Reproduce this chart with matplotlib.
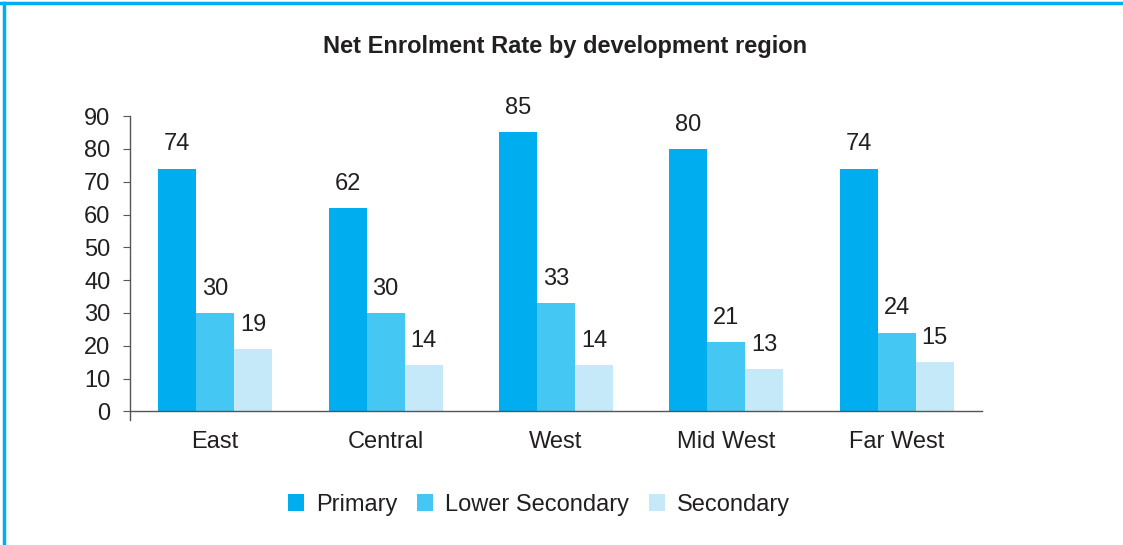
import numpy as np
import matplotlib.pyplot as plt
from matplotlib.lines import Line2D

plt.rcParams['font.family'] = ['Liberation Sans', 'DejaVu Sans']

regions = ['East', 'Central', 'West', 'Mid West', 'Far West']
series = ['Primary', 'Lower Secondary', 'Secondary']
primary = [74, 62, 85, 80, 74]
lower_secondary = [30, 30, 33, 21, 24]
secondary = [19, 14, 14, 13, 15]
colors = ['#00AEEF', '#45C7F4', '#C6E9F9']

fig = plt.figure(figsize=(11.23, 5.45), dpi=100)
ax = fig.add_axes([0.1158, 0.229, 0.7586, 0.558])

x = np.arange(len(regions))
w = 0.223
for i, (vals, name) in enumerate(zip([primary, lower_secondary, secondary], series)):
    pos = x + (i - 1) * w
    ax.bar(pos, vals, width=w, color=colors[i], label=name, zorder=2)
    for px, v in zip(pos, vals):
        ax.text(px, v + 4, str(v), ha='center', va='bottom',
                fontsize=17, color='#231f20')

ax.set_xlim(-0.5, len(regions) - 0.5)
ax.set_ylim(-2.7, 90)
ax.set_yticks(range(0, 91, 10))
ax.set_xticks(x)
ax.set_xticklabels(regions)
ax.spines['top'].set_visible(False)
ax.spines['right'].set_visible(False)
ax.spines['bottom'].set_position(('data', 0))
for s in ['left', 'bottom']:
    ax.spines[s].set_color('#555555')
    ax.spines[s].set_linewidth(1.0)
ax.tick_params(axis='y', direction='out', length=5, color='#555555',
               labelsize=17, labelcolor='#231f20', pad=9)
ax.tick_params(axis='x', length=0, labelsize=17, labelcolor='#231f20', pad=14)

fig.text(0.503, 0.915, 'Net Enrolment Rate by development region',
         ha='center', va='center', fontsize=17, fontweight='bold', color='#231f20')

fig.legend(loc='center', bbox_to_anchor=(0.48, 0.074), ncol=3, frameon=False,
           fontsize=17, handlelength=0.68, handleheight=0.68, columnspacing=0.85,
           handletextpad=0.5, labelcolor='#231f20')

# frame lines along the top and left edges
fig.add_artist(Line2D([0, 1], [0.994, 0.994], transform=fig.transFigure,
                      color='#00AEEF', linewidth=2.5))
fig.add_artist(Line2D([0.004, 0.004], [0, 0.994], transform=fig.transFigure,
                      color='#00AEEF', linewidth=2.5))

fig.savefig('out.png', dpi=100)
